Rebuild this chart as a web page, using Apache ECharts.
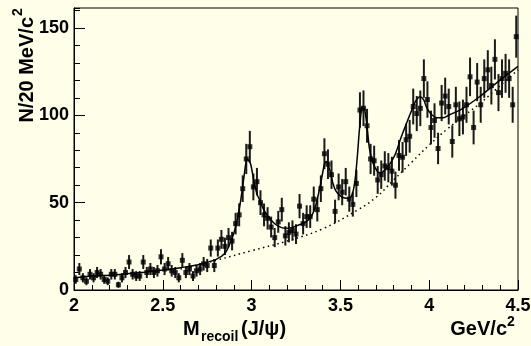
<!DOCTYPE html>
<html>
<head>
<meta charset="utf-8">
<style>
  html, body { margin: 0; padding: 0; background: #fffee8; }
  #chart { width: 531px; height: 346px; }
</style>
<script src="https://cdn.jsdelivr.net/npm/echarts@6/dist/echarts.min.js"></script>
</head>
<body>
<div id="chart"></div>
<script>
// 20 MeV bins from 2.0 to 4.5 GeV/c^2
const binLow = 2.0;
const binWidth = 0.02;
const counts = [
  6, 12, 7, 5, 9, 7, 10, 9, 6, 5,
  9, 9, 3, 7, 10, 16, 9, 8, 8, 16,
  10, 12, 10, 11, 19, 12, 15, 11, 10, 7,
  17, 10, 12, 8, 11, 12, 15, 14, 24, 14,
  24, 29, 25, 30, 28, 38, 43, 58, 75, 82,
  59, 62, 50, 43, 41, 36, 30, 39, 46, 31,
  33, 34, 32, 48, 38, 42, 42, 52, 46, 58,
  78, 72, 66, 45, 59, 56, 62, 52, 49, 61,
  103, 104, 94, 75, 74, 63, 66, 71, 70, 68,
  60, 77, 76, 86, 88, 105, 101, 104, 121, 109,
  93, 97, 81, 107, 111, 105, 85, 106, 98, 99,
  106, 122, 93, 119, 106, 121, 126, 117, 132, 113,
  121, 124, 121, 106, 145
];

// fit curve
const fitX = [2.0, 2.1, 2.2, 2.3, 2.4, 2.5, 2.6, 2.7, 2.8, 2.85, 2.88, 2.91, 2.935, 2.955, 2.975,
  2.993, 3.012, 3.03, 3.05, 3.068, 3.096, 3.124, 3.15, 3.19, 3.227, 3.265, 3.3, 3.336, 3.364,
  3.389, 3.41, 3.42, 3.44, 3.458, 3.477, 3.505, 3.533, 3.561, 3.58, 3.595, 3.61, 3.625, 3.637,
  3.65, 3.665, 3.684, 3.708, 3.728, 3.753, 3.781, 3.81, 3.837, 3.865, 3.894, 3.922, 3.95,
  3.969, 3.988, 4.016, 4.044, 4.08, 4.11, 4.19, 4.283, 4.376, 4.5];
const fitY = [7, 8, 8.5, 9.3, 10.2, 11.4, 12.8, 14.5, 17.5, 21, 27, 36, 49, 63, 75,
  72.5, 63, 55, 50.5, 46, 41.6, 38.5, 36.6, 35.3, 35.7, 37.2, 38.5, 42, 49.6,
  61, 72, 73.5, 68.7, 61, 56.3, 53.4, 52.5, 53.4, 61, 76, 95, 105, 103,
  93.5, 80, 72.5, 68, 67, 69, 72.5, 78, 86, 93.5, 101, 107.8, 110.6,
  108.8, 104, 100.2, 98.6, 98.6, 100, 104, 110.6, 118.3, 128];

// background component (dotted)
const bkgX = [2.6, 2.8, 3.0, 3.2, 3.4, 3.6, 3.7, 3.8, 3.9, 4.0, 4.1, 4.2, 4.3, 4.4, 4.5];
const bkgY = [12, 17, 22.5, 28, 35, 46, 53, 63, 73, 83, 92, 100, 108, 117, 126];

const font = '"Liberation Sans", Arial, Helvetica, sans-serif';

const points = counts.map((n, i) => [binLow + binWidth * (i + 0.5), n]);
const errors = counts.map((n, i) => [binLow + binWidth * (i + 0.5), n - Math.sqrt(n), n + Math.sqrt(n)]);
const fitLine = fitX.map((x, i) => [x, fitY[i]]);
const bkgLine = bkgX.map((x, i) => [x, bkgY[i]]);

const chart = echarts.init(document.getElementById('chart'), null, { renderer: 'canvas' });

chart.setOption({
  backgroundColor: '#fffee8',
  animation: false,
  grid: {
    left: 74, right: 13, top: 8, bottom: 56,
    show: true, borderColor: '#000', borderWidth: 1,
    backgroundColor: 'transparent',
    outerBoundsMode: 'none'
  },
  xAxis: {
    type: 'value', min: 2, max: 4.5, interval: 0.5,
    axisLine: { show: true, onZero: false, lineStyle: { color: '#000', width: 1 } },
    axisTick: { inside: true, length: 10, lineStyle: { color: '#000', width: 1 } },
    minorTick: { show: true, splitNumber: 5, length: 5, lineStyle: { color: '#000', width: 1 } },
    splitLine: { show: false },
    axisLabel: {
      margin: 7, color: '#000', fontSize: 18, fontWeight: 'bold', fontFamily: font,
      formatter: v => String(v)
    }
  },
  yAxis: [
    {
      type: 'value', min: 0, max: 161.4, interval: 10,
      axisLine: { show: true, lineStyle: { color: '#000', width: 1 } },
      axisTick: { inside: true, length: 6, lineStyle: { color: '#000', width: 1 } },
      axisLabel: { show: false },
      splitLine: { show: false }
    },
    {
      type: 'value', min: 0, max: 161.4, interval: 50, position: 'left',
      axisLine: { show: false },
      axisTick: { inside: true, length: 11, lineStyle: { color: '#000', width: 1 } },
      axisLabel: {
        margin: 5, showMaxLabel: false, color: '#000', fontSize: 18, fontWeight: 'bold', fontFamily: font
      },
      splitLine: { show: false }
    }
  ],
  graphic: [
    {
      type: 'group', x: 37, y: 17, rotation: Math.PI / 2,
      children: [
        { type: 'text', x: 0, y: 0, style: { text: 'N/20 MeV/c', fill: '#000', font: 'bold 20px ' + font, align: 'right', verticalAlign: 'bottom' } },
        { type: 'text', x: 1, y: -12, style: { text: '2', fill: '#000', font: 'bold 14px ' + font, align: 'left', verticalAlign: 'bottom' } }
      ]
    },
    { type: 'text', x: 183, y: 339, style: { text: 'M', fill: '#000', font: 'bold 20px ' + font, align: 'left', verticalAlign: 'bottom' } },
    { type: 'text', x: 201, y: 344, style: { text: 'recoil', fill: '#000', font: 'bold 14px ' + font, align: 'left', verticalAlign: 'bottom' } },
    { type: 'text', x: 241, y: 339, style: { text: '(J/\u03c8)', fill: '#000', font: 'bold 20px ' + font, align: 'left', verticalAlign: 'bottom' } },
    { type: 'text', x: 507, y: 339, style: { text: 'GeV/c', fill: '#000', font: 'bold 20px ' + font, align: 'right', verticalAlign: 'bottom' } },
    { type: 'text', x: 507, y: 329, style: { text: '2', fill: '#000', font: 'bold 14px ' + font, align: 'left', verticalAlign: 'bottom' } }
  ],
  series: [
    {
      type: 'line', data: bkgLine, showSymbol: false, smooth: 0.4,
      lineStyle: { color: '#000', width: 1.5, type: [1.5, 3.5] }, z: 2
    },
    {
      type: 'custom', data: errors, encode: { x: 0, y: [1, 2] }, z: 3,
      renderItem: (params, api) => {
        const x = api.value(0);
        const lo = api.coord([x, api.value(1)]);
        const hi = api.coord([x, api.value(2)]);
        return {
          type: 'line',
          shape: { x1: lo[0], y1: lo[1], x2: hi[0], y2: hi[1] },
          style: { stroke: '#1a1a1a', lineWidth: 2 }
        };
      }
    },
    {
      type: 'scatter', data: points, symbol: 'rect', symbolSize: 5,
      itemStyle: { color: '#000' }, z: 4
    },
    {
      type: 'line', data: fitLine, showSymbol: false, smooth: 0.3,
      lineStyle: { color: '#000', width: 1.5 }, z: 5
    }
  ]
});
</script>
</body>
</html>
